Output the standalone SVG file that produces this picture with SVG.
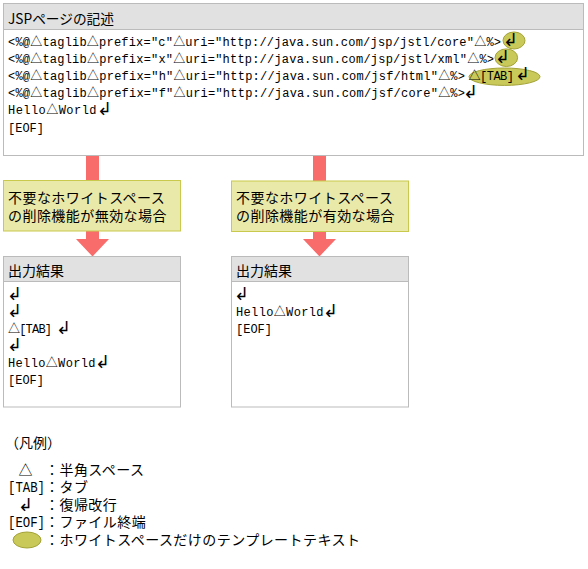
<svg xmlns="http://www.w3.org/2000/svg" width="588" height="569" viewBox="0 0 588 569">
<style>
.box{fill:#fff;stroke:#bbb;stroke-width:1}
.hdr{fill:#e1e1e1;stroke:#bbb;stroke-width:1}
.note{fill:#e9e9a9;stroke:#c9c94d;stroke-width:1}
.arrow{fill:#f86c6c}
.hl{fill:#c9c95a;stroke:#a3a338;stroke-width:1}
.code{font-family:"Liberation Mono","Noto Sans CJK JP",monospace;font-size:12px;fill:#000}
.ret{font-family:"DejaVu Sans","Noto Sans CJK JP",sans-serif;font-size:18px;font-weight:200;fill:#000}
.jp{font-family:"Noto Sans CJK JP","Liberation Sans",sans-serif;font-size:14px;fill:#000}
.sp{letter-spacing:0.45px}
.lg{font-family:"Liberation Mono","Noto Sans CJK JP",monospace;font-size:14px;fill:#000}
</style>

<g id="connectors">
  <path class="arrow" d="M86,155 H99 V239 H109 L92.5,256.5 L76,239 H86 Z"/>
  <path class="arrow" d="M313,155 H326 V239 H336 L319.5,256.5 L303,239 H313 Z"/>
</g>

<g id="jsp-source">
  <rect class="box" x="3.5" y="3.5" width="580" height="152"/>
  <rect class="hdr" x="3.5" y="3.5" width="580" height="26"/>
  <text class="jp" x="8" y="24" font-size="13" textLength="106" lengthAdjust="spacingAndGlyphs">JSPページの記述</text>
  <ellipse class="hl" cx="514" cy="40.5" rx="11" ry="8.5"/>
  <ellipse class="hl" cx="506.3" cy="57.7" rx="11.3" ry="8.8"/>
  <ellipse class="hl" cx="504.5" cy="76.7" rx="35.5" ry="8.7"/>
  <text class="code" x="8" y="45.5" textLength="493" lengthAdjust="spacing">&lt;%@△taglib△prefix="c"△uri="http://java.sun.com/jsp/jstl/core"△%&gt;</text>
  <text class="ret" x="503" y="46">↲</text>
  <text class="code" x="8" y="62.7" textLength="486" lengthAdjust="spacing">&lt;%@△taglib△prefix="x"△uri="http://java.sun.com/jsp/jstl/xml"△%&gt;</text>
  <text class="ret" x="495" y="63.2">↲</text>
  <text class="code" x="8" y="79.9" textLength="457" lengthAdjust="spacing">&lt;%@△taglib△prefix="h"△uri="http://java.sun.com/jsf/html"△%&gt;</text>
  <text class="code" x="468.5" y="79.9" textLength="45.5" lengthAdjust="spacing">△[TAB]</text>
  <text class="ret" x="515" y="80.4">↲</text>
  <text class="code" x="8" y="97.1" textLength="457" lengthAdjust="spacing">&lt;%@△taglib△prefix="f"△uri="http://java.sun.com/jsf/core"△%&gt;</text>
  <text class="ret" x="463" y="97.6">↲</text>
  <text class="code" x="8" y="114.3" textLength="88.5" lengthAdjust="spacing">Hello△World</text>
  <text class="ret" x="97" y="114.8">↲</text>
  <text class="code" x="8" y="131.5" textLength="36" lengthAdjust="spacing">[EOF]</text>
</g>

<g id="note-disabled">
  <rect class="note" x="3.5" y="180.5" width="177" height="50.5"/>
  <text class="jp sp" x="8" y="202.5">不要なホワイトスペース</text>
  <text class="jp sp" x="8" y="220.5">の削除機能が無効な場合</text>
</g>

<g id="note-enabled">
  <rect class="note" x="231.5" y="181" width="177" height="50.5"/>
  <text class="jp sp" x="236" y="203">不要なホワイトスペース</text>
  <text class="jp sp" x="236" y="221">の削除機能が有効な場合</text>
</g>

<g id="output-disabled">
  <rect class="box" x="3.5" y="256.5" width="177" height="150.5"/>
  <rect class="hdr" x="3.5" y="256.5" width="177" height="25"/>
  <text class="jp" x="8" y="276">出力結果</text>
  <text class="ret" x="7" y="300">↲</text>
  <text class="ret" x="7" y="317">↲</text>
  <text class="code" x="8" y="333" textLength="44" lengthAdjust="spacing">△[TAB]</text>
  <text class="ret" x="56" y="334">↲</text>
  <text class="ret" x="7" y="351">↲</text>
  <text class="code" x="8" y="367" textLength="87.5" lengthAdjust="spacing">Hello△World</text>
  <text class="ret" x="95" y="368">↲</text>
  <text class="code" x="8" y="384" textLength="36" lengthAdjust="spacing">[EOF]</text>
</g>

<g id="output-enabled">
  <rect class="box" x="231.5" y="256.5" width="177" height="150.5"/>
  <rect class="hdr" x="231.5" y="256.5" width="177" height="25"/>
  <text class="jp" x="236" y="276">出力結果</text>
  <text class="ret" x="234" y="300">↲</text>
  <text class="code" x="236" y="316" textLength="87.5" lengthAdjust="spacing">Hello△World</text>
  <text class="ret" x="323" y="317">↲</text>
  <text class="code" x="236" y="333" textLength="36" lengthAdjust="spacing">[EOF]</text>
</g>

<g id="legend">
  <text class="jp" x="5" y="448">（凡例）</text>
  <text class="jp" x="18.5" y="475">△</text>
  <text class="jp sp" x="45" y="475">：半角スペース</text>
  <text class="lg" x="8" y="492" textLength="37" lengthAdjust="spacingAndGlyphs">[TAB]</text>
  <text class="jp sp" x="45" y="492">：タブ</text>
  <text class="ret" x="18" y="511">↲</text>
  <text class="jp sp" x="45" y="510">：復帰改行</text>
  <text class="lg" x="8" y="527" textLength="37" lengthAdjust="spacingAndGlyphs">[EOF]</text>
  <text class="jp sp" x="45" y="527">：ファイル終端</text>
  <ellipse class="hl" cx="27" cy="540" rx="14" ry="8"/>
  <text class="jp sp" x="45" y="545">：ホワイトスペースだけのテンプレートテキスト</text>
</g>
</svg>
